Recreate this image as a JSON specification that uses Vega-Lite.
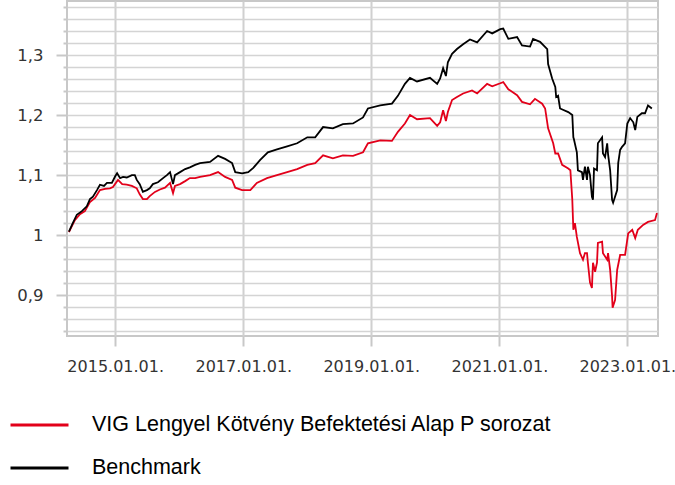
{
 "$schema": "https://vega.github.io/schema/vega-lite/v6.json",
 "width": 591, "height": 335,
 "autosize": {"type": "none"},
 "padding": {"left": 67, "top": 1, "right": 17, "bottom": 149},
 "background": "white",
 "config": {"view": {"stroke": "#c8c8c8", "strokeWidth": 2}},
 "data": {
  "format": {"parse": {"d": "date:'%Y-%m-%d'"}},
  "values": [
{"s":"P","d":"2014-04-12","v":1.005},{"s":"P","d":"2014-05-16","v":1.025},{"s":"P","d":"2014-06-14","v":1.035},{"s":"P","d":"2014-07-12","v":1.04},{"s":"P","d":"2014-08-10","v":1.055},{"s":"P","d":"2014-09-08","v":1.062},{"s":"P","d":"2014-10-06","v":1.075},{"s":"P","d":"2014-11-04","v":1.077},{"s":"P","d":"2014-12-02","v":1.078},{"s":"P","d":"2014-12-19","v":1.08},{"s":"P","d":"2015-01-17","v":1.092},{"s":"P","d":"2015-02-10","v":1.085},{"s":"P","d":"2015-03-08","v":1.084},{"s":"P","d":"2015-04-06","v":1.082},{"s":"P","d":"2015-05-04","v":1.078},{"s":"P","d":"2015-05-21","v":1.068},{"s":"P","d":"2015-06-08","v":1.06},{"s":"P","d":"2015-07-01","v":1.06},{"s":"P","d":"2015-07-17","v":1.065},{"s":"P","d":"2015-08-16","v":1.072},{"s":"P","d":"2015-09-13","v":1.076},{"s":"P","d":"2015-10-12","v":1.079},{"s":"P","d":"2015-11-10","v":1.087},{"s":"P","d":"2015-11-27","v":1.07},{"s":"P","d":"2015-12-08","v":1.082},{"s":"P","d":"2016-01-06","v":1.085},{"s":"P","d":"2016-02-04","v":1.09},{"s":"P","d":"2016-03-02","v":1.095},{"s":"P","d":"2016-04-01","v":1.095},{"s":"P","d":"2016-04-29","v":1.097},{"s":"P","d":"2016-06-25","v":1.1},{"s":"P","d":"2016-08-10","v":1.105},{"s":"P","d":"2016-09-19","v":1.097},{"s":"P","d":"2016-10-29","v":1.092},{"s":"P","d":"2016-11-16","v":1.079},{"s":"P","d":"2016-12-25","v":1.075},{"s":"P","d":"2017-02-10","v":1.075},{"s":"P","d":"2017-03-19","v":1.087},{"s":"P","d":"2017-05-16","v":1.095},{"s":"P","d":"2017-07-12","v":1.1},{"s":"P","d":"2017-09-08","v":1.105},{"s":"P","d":"2017-11-04","v":1.11},{"s":"P","d":"2018-01-01","v":1.117},{"s":"P","d":"2018-02-15","v":1.12},{"s":"P","d":"2018-04-01","v":1.133},{"s":"P","d":"2018-05-27","v":1.128},{"s":"P","d":"2018-07-23","v":1.133},{"s":"P","d":"2018-09-19","v":1.132},{"s":"P","d":"2018-11-15","v":1.138},{"s":"P","d":"2018-12-13","v":1.153},{"s":"P","d":"2019-02-21","v":1.158},{"s":"P","d":"2019-04-29","v":1.157},{"s":"P","d":"2019-06-02","v":1.172},{"s":"P","d":"2019-07-12","v":1.186},{"s":"P","d":"2019-08-10","v":1.2},{"s":"P","d":"2019-09-19","v":1.193},{"s":"P","d":"2019-12-02","v":1.195},{"s":"P","d":"2020-01-12","v":1.182},{"s":"P","d":"2020-01-29","v":1.188},{"s":"P","d":"2020-02-15","v":1.208},{"s":"P","d":"2020-03-02","v":1.19},{"s":"P","d":"2020-03-13","v":1.205},{"s":"P","d":"2020-04-06","v":1.225},{"s":"P","d":"2020-05-04","v":1.23},{"s":"P","d":"2020-06-08","v":1.236},{"s":"P","d":"2020-07-29","v":1.241},{"s":"P","d":"2020-08-27","v":1.236},{"s":"P","d":"2020-10-23","v":1.252},{"s":"P","d":"2020-11-21","v":1.248},{"s":"P","d":"2021-01-06","v":1.253},{"s":"P","d":"2021-01-23","v":1.255},{"s":"P","d":"2021-02-21","v":1.243},{"s":"P","d":"2021-04-12","v":1.233},{"s":"P","d":"2021-05-10","v":1.222},{"s":"P","d":"2021-06-25","v":1.218},{"s":"P","d":"2021-07-23","v":1.227},{"s":"P","d":"2021-09-02","v":1.219},{"s":"P","d":"2021-09-19","v":1.211},{"s":"P","d":"2021-10-06","v":1.178},{"s":"P","d":"2021-11-04","v":1.153},{"s":"P","d":"2021-11-16","v":1.136},{"s":"P","d":"2021-12-02","v":1.136},{"s":"P","d":"2021-12-25","v":1.117},{"s":"P","d":"2022-01-29","v":1.111},{"s":"P","d":"2022-02-10","v":1.108},{"s":"P","d":"2022-02-21","v":1.059},{"s":"P","d":"2022-02-27","v":1.009},{"s":"P","d":"2022-03-08","v":1.02},{"s":"P","d":"2022-03-19","v":0.997},{"s":"P","d":"2022-04-06","v":0.97},{"s":"P","d":"2022-04-23","v":0.959},{"s":"P","d":"2022-05-04","v":0.97},{"s":"P","d":"2022-05-16","v":0.97},{"s":"P","d":"2022-05-21","v":0.954},{"s":"P","d":"2022-06-02","v":0.921},{"s":"P","d":"2022-06-13","v":0.912},{"s":"P","d":"2022-06-19","v":0.954},{"s":"P","d":"2022-07-01","v":0.939},{"s":"P","d":"2022-07-12","v":0.954},{"s":"P","d":"2022-07-17","v":0.987},{"s":"P","d":"2022-08-10","v":0.989},{"s":"P","d":"2022-08-15","v":0.97},{"s":"P","d":"2022-09-08","v":0.959},{"s":"P","d":"2022-09-13","v":0.97},{"s":"P","d":"2022-09-25","v":0.942},{"s":"P","d":"2022-10-06","v":0.898},{"s":"P","d":"2022-10-09","v":0.879},{"s":"P","d":"2022-10-23","v":0.892},{"s":"P","d":"2022-11-04","v":0.942},{"s":"P","d":"2022-11-21","v":0.967},{"s":"P","d":"2022-12-19","v":0.967},{"s":"P","d":"2023-01-06","v":1.003},{"s":"P","d":"2023-01-29","v":1.009},{"s":"P","d":"2023-02-15","v":0.995},{"s":"P","d":"2023-03-02","v":1.009},{"s":"P","d":"2023-04-01","v":1.017},{"s":"P","d":"2023-04-29","v":1.022},{"s":"P","d":"2023-06-08","v":1.025},{"s":"P","d":"2023-06-19","v":1.037},
{"s":"B","d":"2014-04-12","v":1.006},{"s":"B","d":"2014-05-04","v":1.02},{"s":"B","d":"2014-05-27","v":1.034},{"s":"B","d":"2014-06-25","v":1.04},{"s":"B","d":"2014-07-23","v":1.048},{"s":"B","d":"2014-08-10","v":1.06},{"s":"B","d":"2014-08-27","v":1.064},{"s":"B","d":"2014-09-19","v":1.075},{"s":"B","d":"2014-10-06","v":1.084},{"s":"B","d":"2014-10-29","v":1.082},{"s":"B","d":"2014-11-15","v":1.087},{"s":"B","d":"2014-12-13","v":1.087},{"s":"B","d":"2015-01-01","v":1.098},{"s":"B","d":"2015-01-12","v":1.103},{"s":"B","d":"2015-01-29","v":1.095},{"s":"B","d":"2015-02-15","v":1.097},{"s":"B","d":"2015-03-08","v":1.096},{"s":"B","d":"2015-04-06","v":1.1},{"s":"B","d":"2015-04-23","v":1.1},{"s":"B","d":"2015-05-04","v":1.092},{"s":"B","d":"2015-05-21","v":1.085},{"s":"B","d":"2015-06-08","v":1.072},{"s":"B","d":"2015-07-01","v":1.075},{"s":"B","d":"2015-07-17","v":1.078},{"s":"B","d":"2015-08-04","v":1.085},{"s":"B","d":"2015-09-02","v":1.088},{"s":"B","d":"2015-10-01","v":1.095},{"s":"B","d":"2015-10-23","v":1.1},{"s":"B","d":"2015-11-10","v":1.105},{"s":"B","d":"2015-11-27","v":1.085},{"s":"B","d":"2015-12-08","v":1.1},{"s":"B","d":"2016-01-06","v":1.105},{"s":"B","d":"2016-02-04","v":1.11},{"s":"B","d":"2016-03-02","v":1.113},{"s":"B","d":"2016-04-01","v":1.117},{"s":"B","d":"2016-04-29","v":1.12},{"s":"B","d":"2016-06-25","v":1.122},{"s":"B","d":"2016-08-10","v":1.132},{"s":"B","d":"2016-09-19","v":1.127},{"s":"B","d":"2016-10-29","v":1.12},{"s":"B","d":"2016-11-16","v":1.105},{"s":"B","d":"2016-12-25","v":1.103},{"s":"B","d":"2017-01-29","v":1.105},{"s":"B","d":"2017-02-27","v":1.112},{"s":"B","d":"2017-04-06","v":1.125},{"s":"B","d":"2017-05-21","v":1.138},{"s":"B","d":"2017-07-12","v":1.143},{"s":"B","d":"2017-09-08","v":1.148},{"s":"B","d":"2017-11-04","v":1.153},{"s":"B","d":"2018-01-01","v":1.163},{"s":"B","d":"2018-02-15","v":1.163},{"s":"B","d":"2018-04-01","v":1.18},{"s":"B","d":"2018-05-27","v":1.178},{"s":"B","d":"2018-07-23","v":1.185},{"s":"B","d":"2018-09-19","v":1.186},{"s":"B","d":"2018-11-15","v":1.196},{"s":"B","d":"2018-12-13","v":1.211},{"s":"B","d":"2019-02-21","v":1.216},{"s":"B","d":"2019-04-29","v":1.219},{"s":"B","d":"2019-06-02","v":1.232},{"s":"B","d":"2019-07-12","v":1.252},{"s":"B","d":"2019-08-10","v":1.262},{"s":"B","d":"2019-09-19","v":1.256},{"s":"B","d":"2019-12-02","v":1.262},{"s":"B","d":"2020-01-12","v":1.252},{"s":"B","d":"2020-01-29","v":1.261},{"s":"B","d":"2020-02-15","v":1.278},{"s":"B","d":"2020-03-02","v":1.265},{"s":"B","d":"2020-03-13","v":1.288},{"s":"B","d":"2020-04-06","v":1.302},{"s":"B","d":"2020-05-04","v":1.31},{"s":"B","d":"2020-06-08","v":1.318},{"s":"B","d":"2020-07-17","v":1.326},{"s":"B","d":"2020-08-27","v":1.321},{"s":"B","d":"2020-10-23","v":1.34},{"s":"B","d":"2020-11-21","v":1.336},{"s":"B","d":"2021-01-06","v":1.343},{"s":"B","d":"2021-01-23","v":1.344},{"s":"B","d":"2021-02-21","v":1.327},{"s":"B","d":"2021-04-12","v":1.33},{"s":"B","d":"2021-05-10","v":1.316},{"s":"B","d":"2021-06-25","v":1.314},{"s":"B","d":"2021-07-12","v":1.327},{"s":"B","d":"2021-08-21","v":1.322},{"s":"B","d":"2021-10-01","v":1.31},{"s":"B","d":"2021-10-06","v":1.285},{"s":"B","d":"2021-10-29","v":1.261},{"s":"B","d":"2021-11-16","v":1.247},{"s":"B","d":"2021-11-21","v":1.23},{"s":"B","d":"2021-12-02","v":1.232},{"s":"B","d":"2021-12-13","v":1.211},{"s":"B","d":"2022-01-29","v":1.205},{"s":"B","d":"2022-02-21","v":1.2},{"s":"B","d":"2022-02-27","v":1.163},{"s":"B","d":"2022-03-02","v":1.16},{"s":"B","d":"2022-03-19","v":1.138},{"s":"B","d":"2022-03-25","v":1.108},{"s":"B","d":"2022-04-17","v":1.105},{"s":"B","d":"2022-04-23","v":1.092},{"s":"B","d":"2022-05-04","v":1.114},{"s":"B","d":"2022-05-16","v":1.092},{"s":"B","d":"2022-05-21","v":1.114},{"s":"B","d":"2022-06-02","v":1.1},{"s":"B","d":"2022-06-13","v":1.064},{"s":"B","d":"2022-06-19","v":1.059},{"s":"B","d":"2022-06-25","v":1.111},{"s":"B","d":"2022-07-12","v":1.108},{"s":"B","d":"2022-07-17","v":1.153},{"s":"B","d":"2022-08-10","v":1.163},{"s":"B","d":"2022-08-15","v":1.136},{"s":"B","d":"2022-08-27","v":1.13},{"s":"B","d":"2022-09-08","v":1.153},{"s":"B","d":"2022-09-13","v":1.135},{"s":"B","d":"2022-09-25","v":1.108},{"s":"B","d":"2022-10-06","v":1.059},{"s":"B","d":"2022-10-12","v":1.054},{"s":"B","d":"2022-11-04","v":1.075},{"s":"B","d":"2022-11-10","v":1.12},{"s":"B","d":"2022-11-21","v":1.142},{"s":"B","d":"2022-12-02","v":1.147},{"s":"B","d":"2022-12-19","v":1.153},{"s":"B","d":"2023-01-01","v":1.186},{"s":"B","d":"2023-01-17","v":1.195},{"s":"B","d":"2023-02-04","v":1.188},{"s":"B","d":"2023-02-15","v":1.175},{"s":"B","d":"2023-02-27","v":1.197},{"s":"B","d":"2023-03-25","v":1.203},{"s":"B","d":"2023-04-12","v":1.203},{"s":"B","d":"2023-04-29","v":1.216},{"s":"B","d":"2023-05-21","v":1.211}
  ]
 },
 "mark": {"type": "line", "strokeWidth": 1.8, "clip": true},
 "encoding": {
  "x": {
   "field": "d", "type": "temporal",
   "scale": {"domain": [{"year": 2014, "month": 4, "date": 1}, {"year": 2023, "month": 6, "date": 25}]},
   "axis": {
    "title": null,
    "values": [{"year": 2015, "month": 1, "date": 1}, {"year": 2017, "month": 1, "date": 1}, {"year": 2019, "month": 1, "date": 1}, {"year": 2021, "month": 1, "date": 1}, {"year": 2023, "month": 1, "date": 1}],
    "format": "%Y.%m.%d.",
    "labelFont": "DejaVu Sans", "labelFontSize": 16, "labelColor": "#333333",
    "labelPadding": 12, "labelFlush": false, "labelOverlap": false,
    "domain": false,
    "tickSize": 10, "tickColor": "#c8c8c8", "tickWidth": 2,
    "gridColor": "#d0d0d0", "gridWidth": 2
   }
  },
  "y": {
   "field": "v", "type": "quantitative",
   "scale": {"domain": [0.832, 1.39], "nice": false, "zero": false},
   "axis": {
    "title": null,
    "values": [0.84, 0.86, 0.88, 0.9, 0.92, 0.94, 0.96, 0.98, 1.0, 1.02, 1.04, 1.06, 1.08, 1.1, 1.12, 1.14, 1.16, 1.18, 1.2, 1.22, 1.24, 1.26, 1.28, 1.3, 1.32, 1.34, 1.36, 1.38],
    "labelExpr": "abs(datum.value * 10 - round(datum.value * 10)) < 0.001 ? replace(format(datum.value, '.2~f'), '.', ',') : ''",
    "labelFont": "DejaVu Sans", "labelFontSize": 16.5, "labelColor": "#333333",
    "labelPadding": 13, "labelOverlap": false,
    "domain": false,
    "tickSize": {"condition": {"test": "abs(datum.value * 10 - round(datum.value * 10)) < 0.001", "value": 11}, "value": 4},
    "tickColor": "#c8c8c8", "tickWidth": 2,
    "gridColor": "#d4d4d4", "gridWidth": 1.5
   }
  },
  "color": {
   "field": "s", "type": "nominal",
   "scale": {"domain": ["P", "B"], "range": ["#e2001a", "#000000"]},
   "legend": {
    "title": null, "orient": "none", "legendX": -58, "legendY": 413,
    "direction": "vertical",
    "symbolType": "stroke", "symbolSize": 3364, "symbolStrokeWidth": 3,
    "labelExpr": "datum.value == 'P' ? 'VIG Lengyel Kötvény Befektetési Alap P sorozat' : 'Benchmark'",
    "labelFont": "Liberation Sans", "labelFontSize": 21.5, "labelColor": "#000000",
    "labelLimit": 0,
    "labelOffset": 22, "rowPadding": 21, "clipHeight": 22, "padding": 0
   }
  }
 }
}
